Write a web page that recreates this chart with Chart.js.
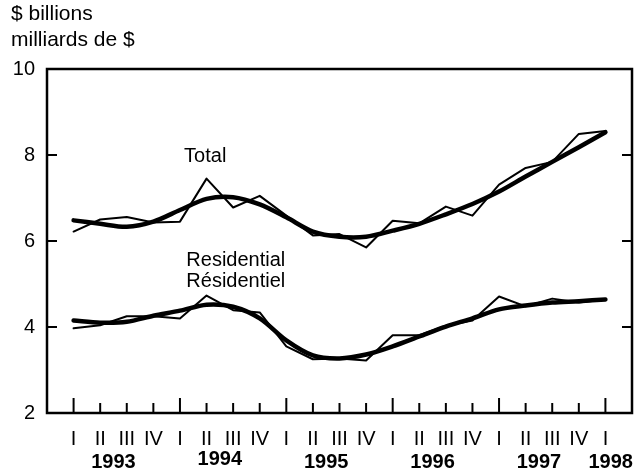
<!DOCTYPE html>
<html>
<head>
<meta charset="utf-8">
<script src="https://cdn.jsdelivr.net/npm/chart.js@4/dist/chart.umd.min.js"></script>
<style>
  html, body { margin: 0; padding: 0; background: #fff; }
  #wrap { width: 639px; height: 474px; position: relative; }
</style>
</head>
<body>
<div id="wrap"><canvas id="chart"></canvas></div>
<script>
// Quarter labels, 1993 I .. 1998 I
const quarters = ["I", "II", "III", "IV", "I", "II", "III", "IV", "I", "II", "III", "IV",
                  "I", "II", "III", "IV", "I", "II", "III", "IV", "I"];
const years = ["1993", "1994", "1995", "1996", "1997", "1998"];
const yTicks = [2, 4, 6, 8, 10];

// $ billions
const totalActual = [6.22, 6.50, 6.56, 6.43, 6.45, 7.45, 6.78, 7.05, 6.59, 6.13, 6.16,
                     5.85, 6.47, 6.41, 6.80, 6.59, 7.31, 7.70, 7.84, 8.49, 8.56];
const totalTrend = [6.48, 6.40, 6.33, 6.45, 6.72, 6.98, 7.02, 6.85, 6.55, 6.22, 6.10,
                    6.10, 6.24, 6.40, 6.62, 6.86, 7.15, 7.50, 7.84, 8.18, 8.53];
const resActual = [3.97, 4.04, 4.25, 4.25, 4.20, 4.73, 4.39, 4.34, 3.55, 3.25, 3.27,
                   3.22, 3.81, 3.81, 4.03, 4.15, 4.71, 4.48, 4.66, 4.57, 4.64];
const resTrend = [4.15, 4.10, 4.12, 4.26, 4.38, 4.52, 4.47, 4.20, 3.69, 3.34, 3.27,
                  3.36, 3.55, 3.78, 4.01, 4.20, 4.41, 4.50, 4.57, 4.60, 4.64];

const FONT = "Liberation Sans, Arial, sans-serif";

function toPoints(arr) {
    return arr.map((v, i) => ({ x: i, y: v }));
}

function lineSet(arr, width, tension) {
    return {
        data: toPoints(arr),
        borderColor: "#000",
        borderWidth: width,
        pointRadius: 0,
        tension: tension,
        borderJoinStyle: "round",
        borderCapStyle: "round",
    };
}

// Frame, inward ticks and text drawn on top of the chart
const decorPlugin = {
    id: "decor",
    afterDraw(chart) {
        const ctx = chart.ctx;
        const a = chart.chartArea;
        const xs = chart.scales.x;
        const ys = chart.scales.y;
        ctx.save();
        ctx.strokeStyle = "#000";
        ctx.lineWidth = 2.5;
        ctx.strokeRect(a.left, a.top, a.right - a.left, a.bottom - a.top);

        // y ticks on both sides, pointing inward
        ctx.lineWidth = 2;
        yTicks.slice(1, -1).forEach((v) => {
            const y = ys.getPixelForValue(v);
            ctx.beginPath();
            ctx.moveTo(a.left, y);
            ctx.lineTo(a.left + 10, y);
            ctx.moveTo(a.right, y);
            ctx.lineTo(a.right - 10, y);
            ctx.stroke();
        });

        // x ticks, longer at the start of each year
        quarters.forEach((q, i) => {
            const x = xs.getPixelForValue(i);
            const len = q === "I" ? 15 : 10;
            ctx.beginPath();
            ctx.moveTo(x, a.bottom);
            ctx.lineTo(x, a.bottom - len);
            ctx.stroke();
        });

        // year labels
        ctx.fillStyle = "#000";
        ctx.font = "bold 20px " + FONT;
        ctx.textAlign = "center";
        ctx.textBaseline = "middle";
        years.forEach((yr, i) => {
            let pos = i * 4 + 1.5;
            if (i === years.length - 1) pos = i * 4 + 0.2;
            ctx.fillText(yr, xs.getPixelForValue(pos), i === 1 ? 459 : 462);
        });

        // unit labels
        ctx.font = "21px " + FONT;
        ctx.textAlign = "left";
        ctx.fillText("$ billions", 11, 14);
        ctx.fillText("milliards de $", 11, 40);

        // series labels
        ctx.font = "20px " + FONT;
        ctx.textAlign = "center";
        ctx.fillText("Total", xs.getPixelForValue(4.95), 156);
        ctx.fillText("Residential", xs.getPixelForValue(6.1), 260);
        ctx.fillText("Résidentiel", xs.getPixelForValue(6.1), 281);
        ctx.restore();
    },
};

new Chart(document.getElementById("chart"), {
    type: "line",
    data: {
        datasets: [
            lineSet(totalTrend, 4.5, 0.3),
            lineSet(totalActual, 2, 0),
            lineSet(resTrend, 4.5, 0.3),
            lineSet(resActual, 2, 0),
        ],
    },
    options: {
        responsive: true,
        maintainAspectRatio: false,
        animation: false,
        layout: { padding: { top: 69, right: 7, left: 0, bottom: 0 } },
        plugins: {
            legend: { display: false },
            tooltip: { enabled: false },
        },
        scales: {
            x: {
                type: "linear",
                min: -1,
                max: 21,
                grid: { display: false, drawTicks: false },
                border: { display: false },
                afterBuildTicks: (scale) => {
                    scale.ticks = quarters.map((q, i) => ({ value: i }));
                },
                afterFit: (scale) => {
                    scale.height = 61;
                },
                ticks: {
                    autoSkip: false,
                    maxRotation: 0,
                    padding: 14,
                    color: "#000",
                    font: { family: FONT, size: 20 },
                    callback: (v) => quarters[v],
                },
            },
            y: {
                min: 2,
                max: 10,
                grid: { display: false, drawTicks: false },
                border: { display: false },
                afterBuildTicks: (scale) => {
                    scale.ticks = yTicks.map((v) => ({ value: v }));
                },
                afterFit: (scale) => {
                    scale.width = 47;
                },
                ticks: {
                    padding: 12,
                    color: "#000",
                    font: { family: FONT, size: 20 },
                },
            },
        },
    },
    plugins: [decorPlugin],
});
</script>
</body>
</html>
